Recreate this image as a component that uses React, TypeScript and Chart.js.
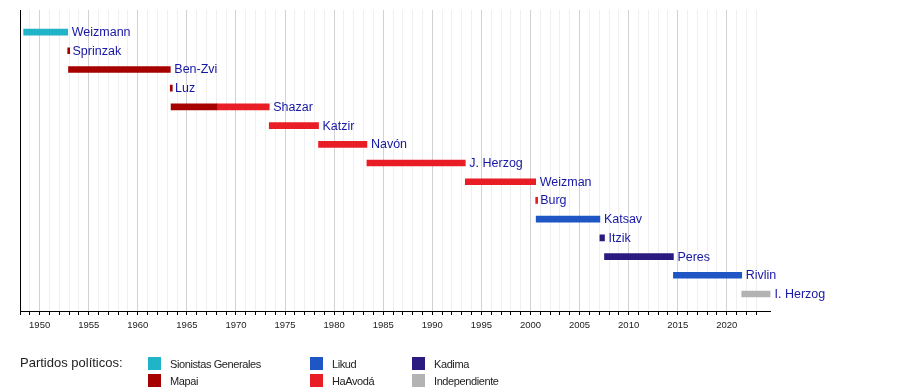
import React, { useEffect, useRef } from "react";
import { Chart, registerables } from "chart.js";

Chart.register(...registerables);

const presidents = [
  "Weizmann", "Sprinzak", "Ben-Zvi", "Luz", "Shazar", "Katzir", "Navón",
  "J. Herzog", "Weizman", "Burg", "Katsav", "Itzik", "Peres", "Rivlin", "I. Herzog",
];

// term segments (row index, start year, end year, party)
const segRow = [0, 1, 2, 3, 4, 4, 5, 6, 7, 8, 9, 10, 11, 12, 13, 14];
const segStart = [1948.37, 1952.86, 1952.94, 1963.31, 1963.39, 1968.05, 1973.39, 1978.41, 1983.34, 1993.36, 2000.53, 2000.58, 2007.07, 2007.54, 2014.56, 2021.52];
const segEnd = [1952.86, 1952.94, 1963.31, 1963.39, 1968.05, 1973.39, 1978.41, 1983.34, 1993.36, 2000.53, 2000.58, 2007.07, 2007.54, 2014.56, 2021.52, 2024.45];
const segParty = ["SG", "Mapai", "Mapai", "Mapai", "Mapai", "HaAvoda", "HaAvoda", "HaAvoda", "HaAvoda", "HaAvoda", "HaAvoda", "Likud", "Kadima", "Kadima", "Likud", "Indep"];

const partyKeys = ["SG", "Mapai", "Likud", "HaAvoda", "Kadima", "Indep"];
const partyNames = ["Sionistas Generales", "Mapai", "Likud", "HaAvodá", "Kadima", "Independiente"];
const partyColors = ["#1fb4c8", "#a60000", "#1f56c6", "#e91d26", "#2b1a7f", "#b3b3b3"];

const axisMin = 1948;
const axisMax = 2024.45;

const FONT = "'Liberation Sans', Arial, Helvetica, sans-serif";

const labelPlugin = {
  id: "termLabels",
  afterDatasetsDraw(chart: any) {
    const ctx = chart.ctx;
    const xs = chart.scales.x;
    const ys = chart.scales.y;
    ctx.save();
    ctx.font = `12.5px ${FONT}`;
    ctx.fillStyle = "#1717a6";
    ctx.textAlign = "left";
    ctx.textBaseline = "middle";
    presidents.forEach((name, i) => {
      const ends = segEnd.filter((_, k) => segRow[k] === i);
      const end = Math.max(...ends);
      const px = xs.getPixelForValue(end) + 4;
      const py = ys.getPixelForValue(i) + 0.5;
      ctx.fillText(name, px, py);
    });
    ctx.restore();
  },
};

export default function App() {
  const canvasRef = useRef<HTMLCanvasElement>(null);

  useEffect(() => {
    const datasets = partyKeys.map((key, pi) => ({
      label: partyNames[pi],
      backgroundColor: partyColors[pi],
      data: segParty
        .map((p, k) => (p === key ? { x: [segStart[k], segEnd[k]], y: segRow[k] } : null))
        .filter((d) => d !== null),
    }));

    const chart = new Chart(canvasRef.current as HTMLCanvasElement, {
      type: "bar",
      data: { datasets: datasets as any },
      plugins: [labelPlugin],
      options: {
        indexAxis: "y",
        responsive: false,
        animation: false,
        layout: { padding: { left: 20, top: 10, right: 900 - 770.5, bottom: 0 } },
        plugins: { legend: { display: false }, tooltip: { enabled: false } },
        datasets: {
          bar: { grouped: false, barThickness: 6, minBarLength: 2, borderWidth: 0 } as any,
        },
        scales: {
          x: {
            type: "linear",
            min: axisMin,
            max: axisMax,
            offset: false,
            afterBuildTicks: (s: any) => {
              s.ticks = s.ticks.filter((t: any) => Number.isInteger(t.value));
            },
            afterFit: (s: any) => {
              s.height = 79;
            },
            ticks: {
              stepSize: 1,
              autoSkip: false,
              maxRotation: 0,
              padding: 5,
              color: "#222",
              font: { family: FONT, size: 9.5 },
              callback: (v: any) => (Number(v) % 5 === 0 ? String(v) : ""),
            },
            grid: {
              color: (c: any) => (c.tick && c.tick.value % 5 === 0 ? "#d2d2d2" : "#efefef"),
              tickColor: "#000",
              tickLength: 4,
              lineWidth: 1,
            },
            border: { color: "#000", width: 1 },
          },
          y: {
            type: "linear",
            min: -1.18,
            max: 14.91,
            reverse: true,
            offset: false,
            afterFit: (s: any) => {
              s.width = 0;
            },
            ticks: { display: false },
            grid: { display: false, offset: false },
            border: { color: "#000", width: 1 },
          },
        },
      } as any,
    });
    return () => chart.destroy();
  }, []);

  const legendCols = [148, 310, 412];
  const legendRows = [357, 374];

  return (
    <div style={{ position: "absolute", left: 0, top: 0, width: 900, height: 390, background: "#fff", fontFamily: FONT }}>
      <canvas ref={canvasRef} width={900} height={390} style={{ position: "absolute", left: 0, top: 0 }} />
      <div style={{ position: "absolute", left: 20, top: 355, fontSize: 13, lineHeight: "16px", color: "#222", whiteSpace: "nowrap" }}>
        Partidos políticos:
      </div>
      {partyNames.map((name, i) => {
        const col = Math.floor(i / 2);
        const row = i % 2;
        return (
          <div key={name} style={{ position: "absolute", left: legendCols[col], top: legendRows[row], height: 13, whiteSpace: "nowrap" }}>
            <span style={{ position: "absolute", left: 0, top: 0, width: 13, height: 13, background: partyColors[i] }} />
            <span style={{ position: "absolute", left: 22, top: 0, fontSize: 11, lineHeight: "15px", letterSpacing: "-0.4px", color: "#222" }}>
              {name}
            </span>
          </div>
        );
      })}
    </div>
  );
}
